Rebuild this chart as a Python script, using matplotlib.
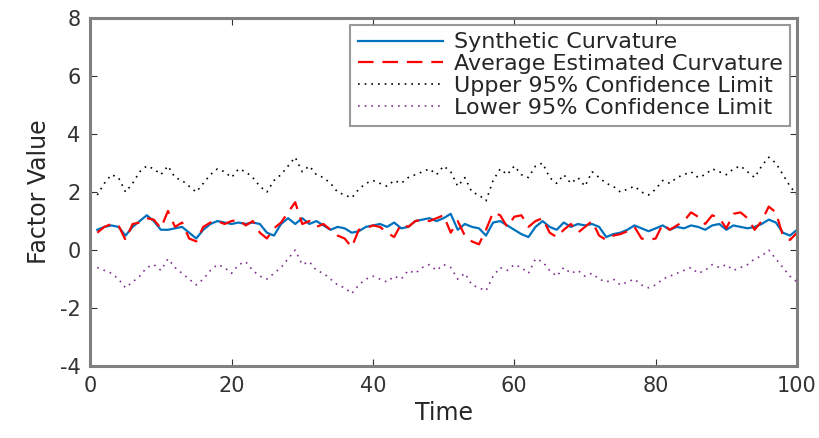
import numpy as np
import matplotlib
matplotlib.use("Agg")
import matplotlib.pyplot as plt

# values (time 1..100)
time = np.arange(1, 101)

synthetic = [0.7, 0.8, 0.85, 0.8, 0.5, 0.8, 1.0, 1.2, 1.0, 0.7,
             0.7, 0.75, 0.8, 0.6, 0.4, 0.7, 0.9, 1.0, 0.95, 0.9,
             0.95, 0.9, 0.95, 0.9, 0.6, 0.5, 0.9, 1.1, 0.9, 1.1,
             0.9, 1.0, 0.85, 0.7, 0.8, 0.75, 0.6, 0.65, 0.8, 0.85,
             0.9, 0.8, 0.95, 0.75, 0.8, 1.0, 1.05, 1.1, 1.0, 1.1,
             1.25, 0.7, 0.9, 0.8, 0.75, 0.5, 0.95, 1.0, 0.85, 0.7,
             0.55, 0.45, 0.8, 1.0, 0.8, 0.7, 0.95, 0.8, 0.9, 0.85,
             0.9, 0.8, 0.45, 0.55, 0.6, 0.7, 0.85, 0.75, 0.65, 0.75,
             0.85, 0.7, 0.8, 0.75, 0.85, 0.8, 0.7, 0.85, 0.9, 0.7,
             0.85, 0.8, 0.75, 0.8, 0.9, 1.05, 0.95, 0.6, 0.5, 0.7]

estimated = [0.6, 0.8, 0.9, 0.85, 0.35, 0.9, 0.95, 1.1, 1.05, 0.75,
             1.35, 0.8, 0.95, 0.4, 0.3, 0.8, 0.95, 1.0, 0.9, 1.0,
             1.05, 0.85, 1.0, 0.6, 0.4, 0.75, 0.95, 1.3, 1.65, 0.9,
             1.0, 0.8, 0.9, 0.7, 0.5, 0.4, 0.1, 0.7, 0.75, 0.85,
             0.8, 0.6, 0.45, 0.9, 0.8, 1.0, 1.05, 1.0, 1.1, 1.2,
             0.6, 1.0, 0.5, 0.3, 0.2, 0.7, 1.3, 1.2, 0.8, 1.15,
             1.2, 0.8, 1.0, 1.1, 0.6, 0.45, 0.7, 0.9, 0.6, 0.8,
             1.0, 0.5, 0.35, 0.5, 0.55, 0.65, 0.8, 0.4, 0.35, 0.4,
             0.9, 0.7, 0.85, 1.0, 1.3, 1.15, 0.9, 1.2, 1.1, 0.75,
             1.25, 1.3, 1.1, 0.7, 1.0, 1.5, 1.3, 0.5, 0.35, 0.6]

upper = [1.9, 2.3, 2.6, 2.5, 2.0, 2.3, 2.7, 2.9, 2.8, 2.6,
         2.9, 2.5, 2.4, 2.2, 2.0, 2.3, 2.6, 2.8, 2.7, 2.5,
         2.8, 2.7, 2.5, 2.2, 2.0, 2.4, 2.6, 2.9, 3.2, 2.7,
         2.9, 2.6, 2.5, 2.3, 2.0, 1.9, 1.8, 2.1, 2.3, 2.4,
         2.3, 2.2, 2.4, 2.3, 2.5, 2.6, 2.7, 2.8, 2.6, 2.9,
         2.7, 2.2, 2.5, 2.0, 1.9, 1.7, 2.4, 2.8, 2.6, 2.9,
         2.6, 2.5, 2.9, 3.0, 2.5, 2.3, 2.6, 2.3, 2.5, 2.2,
         2.7, 2.5, 2.3, 2.2, 2.0, 2.1, 2.2, 2.0, 1.9, 2.1,
         2.4, 2.3, 2.5, 2.6, 2.7, 2.5, 2.6, 2.8, 2.7, 2.6,
         2.8, 2.9, 2.7, 2.5, 2.9, 3.2, 3.0, 2.6, 2.2, 1.9]

lower = [-0.6, -0.7, -0.8, -1.0, -1.3, -1.1, -0.9, -0.6, -0.5, -0.7,
         -0.3, -0.6, -0.8, -1.0, -1.2, -1.0, -0.7, -0.5, -0.6, -0.8,
         -0.5, -0.4, -0.7, -0.9, -1.0, -0.8, -0.6, -0.3, 0.0, -0.5,
         -0.4, -0.7, -0.8, -1.0, -1.2, -1.3, -1.5, -1.2, -1.0, -0.9,
         -1.0, -1.1, -0.9, -1.0, -0.7, -0.8, -0.6, -0.5, -0.7, -0.5,
         -0.6, -1.0, -0.8, -1.2, -1.3, -1.4, -0.9, -0.6, -0.7, -0.5,
         -0.6, -0.8, -0.3, -0.4, -0.7, -0.9, -0.6, -0.8, -0.7, -0.9,
         -0.8, -1.0, -1.1, -1.0, -1.2, -1.1, -1.0, -1.2, -1.3, -1.2,
         -1.0, -0.9, -0.8, -0.7, -0.6, -0.8, -0.7, -0.5, -0.6, -0.5,
         -0.7, -0.6, -0.5, -0.3, -0.2, 0.0, -0.3, -0.6, -0.9, -1.1]

labels = ["Synthetic Curvature", "Average Estimated Curvature",
          "Upper 95% Confidence Limit", "Lower 95% Confidence Limit"]

plt.rcParams['font.family'] = ['DejaVu Sans']
plt.rcParams['axes.unicode_minus'] = False

fig = plt.figure(figsize=(8.2, 4.38), dpi=100)
ax = fig.add_axes([0.11, 0.164, 0.862, 0.795])

ax.plot(time, synthetic, color='#0072BD', lw=1.6, label=labels[0])
ax.plot(time, estimated, color='#FF0000', lw=1.6, dashes=(7, 4), label=labels[1])
ax.plot(time, upper, color='black', lw=1.2, ls=(0, (1, 3)), label=labels[2])
ax.plot(time, lower, color='#7E2F8E', lw=1.2, ls=(0, (1, 3)), label=labels[3])

ax.set_xlim(0, 100)
ax.set_ylim(-4, 8)
ax.set_xticks(np.arange(0, 101, 20))
ax.set_yticks(np.arange(-4, 9, 2))
ax.tick_params(direction='in', top=True, right=True, labelsize=15,
               colors='#333333', length=5, pad=7)
for s in ax.spines.values():
    s.set_color('#808080')
    s.set_linewidth(2.2)

ax.set_xlabel("Time", fontsize=17, color='#262626', labelpad=4)
ax.set_ylabel("Factor Value", fontsize=17, color='#262626', labelpad=6)

leg = ax.legend(loc='upper right', fontsize=16, frameon=True, fancybox=False,
                edgecolor='#808080', handlelength=3.8, borderaxespad=0.3,
                labelspacing=0.08, handletextpad=0.5, borderpad=0.35)
leg.get_frame().set_linewidth(1.5)
for t in leg.get_texts():
    t.set_color('#262626')

fig.savefig("out.png", dpi=100)
